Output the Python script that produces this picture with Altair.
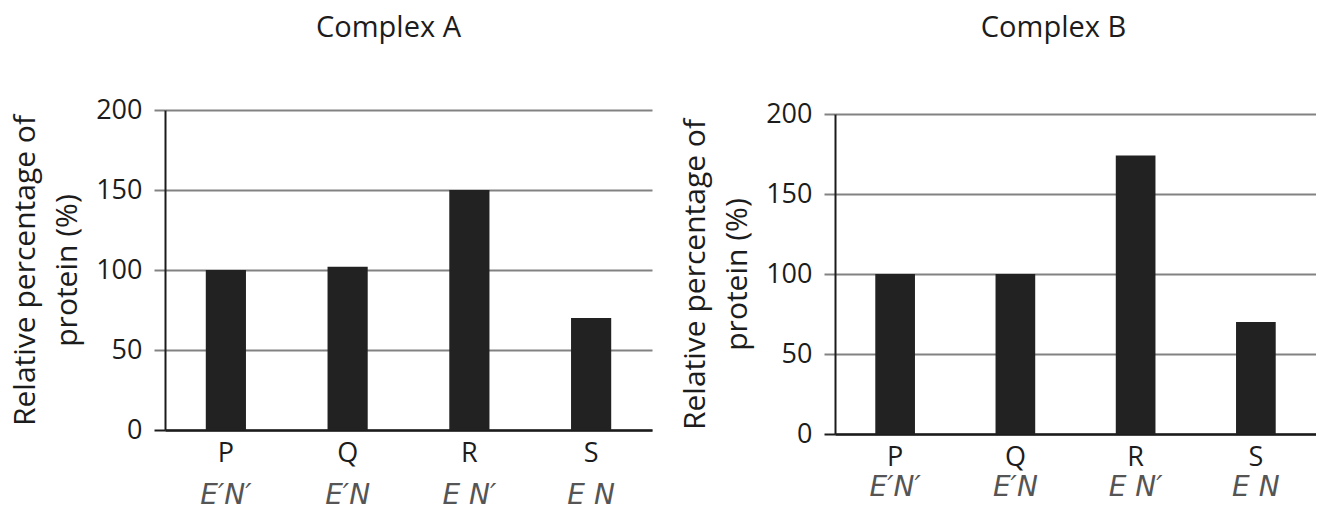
import altair as alt
import pandas as pd

categories = ["P", "Q", "R", "S"]
complex_a = [100, 102, 150, 70]
complex_b = [100, 100, 174, 70]
notes_a = ["E′N′", "E′N", "E N′", "E N"]
notes_b = ["E′N′", "E′N", "E N′", "E N"]
y_ticks = [0, 50, 100, 150, 200]
y_title = ["Relative percentage of", "protein (%)"]
titles = ["Complex A", "Complex B"]

FONT = "Open Sans"
GRID = "#828282"
INK = "#1c1c1c"


def panel(values, notes, title, width, height, yrange, title_y, note_y,
          title_dx, title_offset):
    df = pd.DataFrame({"cat": categories, "val": values, "note": notes})
    x = alt.X(
        "cat:N",
        sort=categories,
        title=None,
        scale=alt.Scale(paddingInner=0.67, paddingOuter=0.335),
        axis=alt.Axis(
            labelAngle=0, ticks=False, labelPadding=10, labelFontSize=27,
            labelFont=FONT, labelColor=INK, domainColor=INK, domainWidth=2.5,
            grid=False,
        ),
    )
    y = alt.Y(
        "val:Q",
        title=y_title,
        scale=alt.Scale(domain=[0, 200], range=yrange, nice=False),
        axis=alt.Axis(
            values=y_ticks, grid=True, gridColor=GRID, gridWidth=2,
            tickSize=11, tickWidth=2,
            tickColor={"condition": {"test": "datum.value === 0", "value": INK}, "value": GRID},
            domainColor=INK, domainWidth=2,
            labelFontSize=27, labelFont=FONT, labelColor=INK, labelPadding=12,
            titleFont=FONT, titleFontSize=30, titleFontWeight="normal", titleColor=INK,
            titleAngle=270, titleAlign="center", titleBaseline="top",
            titleLineHeight=42, titleX=-155, titleY=title_y,
        ),
    )
    bars = alt.Chart(df).mark_bar(color="#222222").encode(x=x, y=y)
    hand = alt.Chart(df).mark_text(
        font="DejaVu Sans", fontStyle="italic", fontWeight=300, fontSize=28,
        color="#555555", baseline="middle", align="center",
    ).encode(x=x, y=alt.value(note_y), text="note:N")
    return alt.layer(bars, hand).properties(
        width=width,
        height=height,
        title=alt.TitleParams(title, font=FONT, fontSize=29, fontWeight="normal",
                              color=INK, anchor="middle", frame="group",
                              offset=title_offset, dx=title_dx),
    )


left = panel(complex_a, notes_a, titles[0], 487, 320, [320, 0], 160, 386, -20, 53.5)
right = panel(complex_b, notes_b, titles[1], 481, 324, [324, 4], 164, 378, -22, 57.5)

chart = (
    alt.hconcat(left, right, spacing=28)
    .properties(padding={"left": 2, "top": 5, "right": 0, "bottom": 0})
    .configure_view(stroke=None)
)

chart.save("out.html", embed_options={"renderer": "svg", "actions": False})
